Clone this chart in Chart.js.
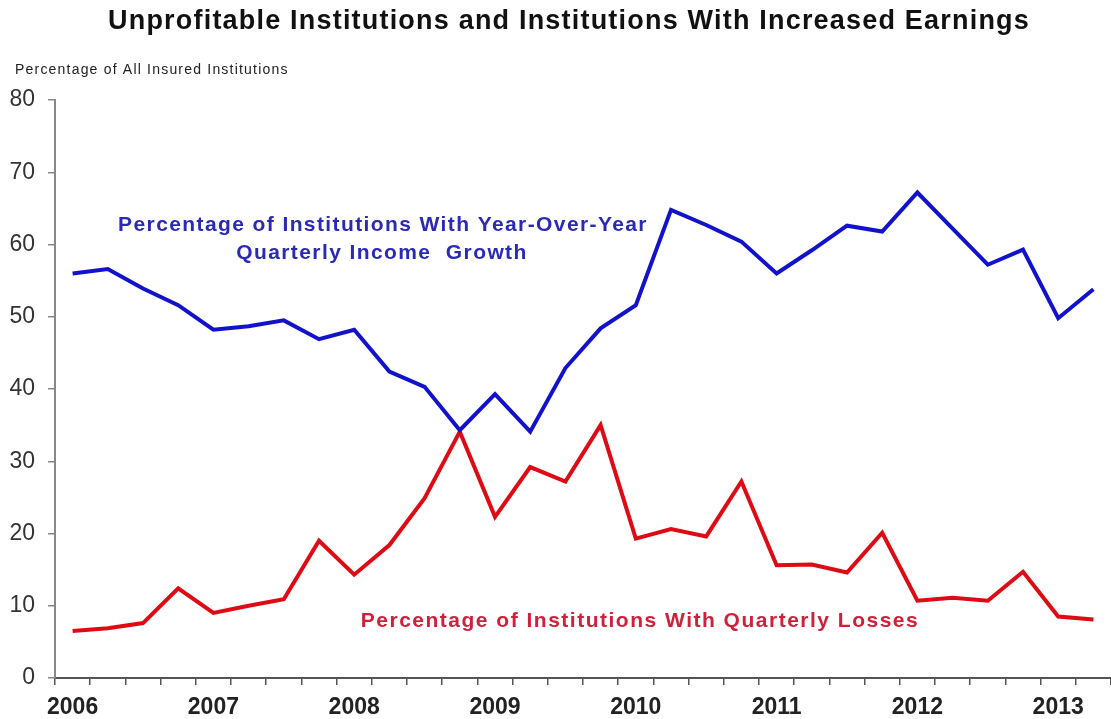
<!DOCTYPE html>
<html>
<head>
<meta charset="utf-8">
<script src="https://cdn.jsdelivr.net/npm/chart.js@4"></script>
<style>
  html, body { margin: 0; padding: 0; background: #fff; }
  #wrap { width: 1111px; height: 719px; }
</style>
</head>
<body>
<div id="wrap"><canvas id="earningsChart" width="1111" height="719"></canvas></div>
<script>
// quarters 2006Q1 .. 2013Q2
const quarters = ['2006', '', '', '', '2007', '', '', '', '2008', '', '', '', '2009', '', '', '',
    '2010', '', '', '', '2011', '', '', '', '2012', '', '', '', '2013', ''];

const incomeGrowth = [56.0, 56.6, 53.9, 51.6, 48.2, 48.7, 49.5, 46.9, 48.2, 42.4,
    40.3, 34.3, 39.3, 34.1, 42.9, 48.4, 51.6, 64.8, 62.7, 60.4,
    56.0, 59.2, 62.6, 61.8, 67.2, 62.2, 57.2, 59.3, 49.8, 53.8];

const quarterlyLosses = [6.5, 6.9, 7.6, 12.4, 9.0, 10.0, 10.9, 19.0, 14.3, 18.4,
    24.9, 34.1, 22.3, 29.2, 27.2, 35.0, 19.3, 20.6, 19.6, 27.2,
    15.6, 15.7, 14.6, 20.1, 10.7, 11.1, 10.7, 14.7, 8.5, 8.1];

const yTicks = [0, 10, 20, 30, 40, 50, 60, 70, 80];

const chartTitle = 'Unprofitable Institutions and Institutions With Increased Earnings';
const axisNote = 'Percentage of All Insured Institutions';
const blueNote = ['Percentage of Institutions With Year-Over-Year', 'Quarterly Income  Growth'];
const redNote = 'Percentage of Institutions With Quarterly Losses';

const fontFam = '"Liberation Sans", Arial, sans-serif';

// draws title, subtitle and the two series notes
const textPlugin = {
    id: 'texts',
    afterDraw(chart) {
        const c = chart.ctx;
        c.save();
        c.textBaseline = 'middle';

        c.fillStyle = '#111';
        c.textAlign = 'center';
        c.letterSpacing = '1.2px';
        c.font = 'bold 27px ' + fontFam;
        c.fillText(chartTitle, 569, 22);

        c.textAlign = 'left';
        c.fillStyle = '#222';
        c.letterSpacing = '1.2px';
        c.font = '14px ' + fontFam;
        c.fillText(axisNote, 15, 70);

        c.textAlign = 'center';
        c.letterSpacing = '1.4px';
        c.font = 'bold 21px ' + fontFam;
        c.fillStyle = '#2a2ab4';
        c.fillText(blueNote[0], 383, 225);
        c.fillText(blueNote[1], 382, 253);

        c.fillStyle = '#d0203a';
        c.letterSpacing = '1.5px';
        c.fillText(redNote, 640, 621);
        c.restore();
    }
};

new Chart(document.getElementById('earningsChart').getContext('2d'), {
    type: 'line',
    data: {
        labels: quarters,
        datasets: [{
            label: 'Year-Over-Year Quarterly Income Growth',
            data: incomeGrowth,
            borderColor: 'rgb(18,18,205)',
            borderWidth: 4,
            pointRadius: 0,
            tension: 0,
            fill: false,
        }, {
            label: 'Quarterly Losses',
            data: quarterlyLosses,
            borderColor: 'rgb(222,10,20)',
            borderWidth: 4,
            pointRadius: 0,
            tension: 0,
            fill: false,
        }]
    },
    options: {
        responsive: false,
        animation: false,
        layout: {
            padding: { top: 100, right: 0, bottom: 0, left: 0 }
        },
        plugins: {
            legend: { display: false },
            tooltip: { enabled: false }
        },
        scales: {
            x: {
                offset: true,
                afterFit: function (scale) { scale.height = 41; },
                grid: {
                    offset: true,
                    drawOnChartArea: false,
                    drawTicks: true,
                    tickLength: 7,
                    color: '#555',
                    lineWidth: 1.5
                },
                border: { color: '#555', width: 2 },
                ticks: {
                    autoSkip: false,
                    maxRotation: 0,
                    padding: 9,
                    color: '#222',
                    font: { family: fontFam, size: 23, weight: 'bold' }
                }
            },
            y: {
                min: 0,
                max: 80,
                afterFit: function (scale) { scale.width = 55; },
                afterBuildTicks: function (scale) {
                    scale.ticks = yTicks.map(v => ({ value: v }));
                },
                grid: {
                    drawOnChartArea: false,
                    drawTicks: true,
                    tickLength: 7,
                    color: '#888',
                    lineWidth: 1.5
                },
                border: { color: '#888', width: 2 },
                ticks: {
                    padding: 13,
                    color: '#333',
                    font: { family: fontFam, size: 23 }
                }
            }
        }
    },
    plugins: [textPlugin]
});
</script>
</body>
</html>
